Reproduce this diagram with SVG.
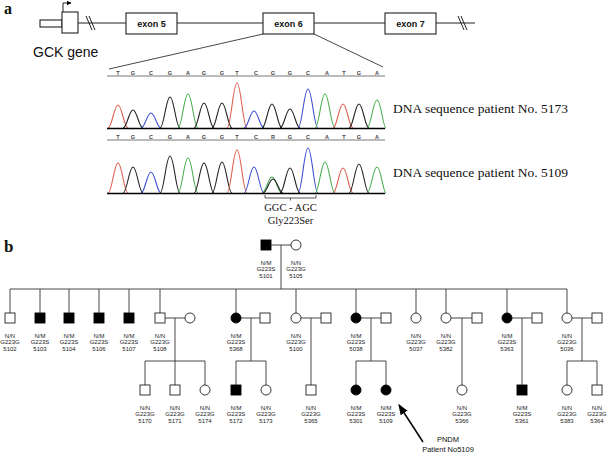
<svg xmlns="http://www.w3.org/2000/svg" width="609" height="453" viewBox="0 0 609 453">
<defs>
<marker id="ah" viewBox="0 0 10 10" refX="9" refY="5" markerWidth="5" markerHeight="5" orient="auto" markerUnits="strokeWidth">
<path d="M0 0L10 5L0 10z" fill="#000"/>
</marker>
<marker id="ah2" viewBox="0 0 10 10" refX="9" refY="5" markerWidth="7" markerHeight="7" orient="auto" markerUnits="strokeWidth">
<path d="M0 1L10 5L0 9z" fill="#000"/>
</marker>
</defs>
<style>
.ln{stroke:#333;stroke-width:0.9;fill:none}
.gl{stroke:#222;stroke-width:1;fill:none}
.bx{fill:#fff;stroke:#222;stroke-width:1.1}
.o{fill:#fff;stroke:#222;stroke-width:0.9}
.f{fill:#000;stroke:#000;stroke-width:0.9}
.lb{font-family:"Liberation Sans",Arial,sans-serif;font-size:6px;text-anchor:middle;fill:#222}
.ex{font-family:"Liberation Sans",Arial,sans-serif;font-size:9px;font-weight:bold;text-anchor:middle;fill:#111}
.sq{font-family:"Liberation Sans",Arial,sans-serif;font-size:5.5px;font-weight:bold;text-anchor:middle;fill:#444}
.sr{font-family:"Liberation Serif","Times New Roman",serif;fill:#111}
.pk{fill:none;stroke-width:1.1}
.T{stroke:#e0604f}
.G{stroke:#222}
.C{stroke:#3e4fd0}
.A{stroke:#4caf50}
</style>
<rect width="609" height="453" fill="#fff"/>

<!-- panel a -->
<text x="4" y="14" class="sr" font-size="16" font-weight="bold">a</text>
<g id="gene">
<path class="gl" d="M78 23H126M177 23H263M314 23H385M436 23H475"/>
<path class="gl" d="M86 16L92 30M89 16L95 30M458 16L464 30M461 16L467 30"/>
<rect x="40" y="20" width="22" height="7" class="bx"/>
<rect x="62" y="12" width="16" height="21" class="bx"/>
<path d="M63 12V3H71" class="gl" marker-end="url(#ah)"/>
<text x="33" y="57" font-family="Liberation Sans,Arial,sans-serif" font-size="14" fill="#111">GCK gene</text>
</g>
<g id="exon5"><rect x="126" y="13" width="51" height="21" class="bx"/><text x="151.5" y="26.5" class="ex">exon 5</text></g>
<g id="exon6"><rect x="263" y="13" width="51" height="21" class="bx"/><text x="288.5" y="26.5" class="ex">exon 6</text></g>
<g id="exon7"><rect x="385" y="13" width="51" height="21" class="bx"/><text x="410.5" y="26.5" class="ex">exon 7</text></g>
<path class="ln" d="M263 34L109 69M314 34L383 67"/>

<g id="seq1">
<path d="M107 76H385" stroke="#555" stroke-width="0.8"/>
<text class="sq" y="75"><tspan x="118">T</tspan><tspan x="133">G</tspan><tspan x="151">C</tspan><tspan x="170">G</tspan><tspan x="188">A</tspan><tspan x="204">G</tspan><tspan x="222">G</tspan><tspan x="237">T</tspan><tspan x="256">C</tspan><tspan x="273">G</tspan><tspan x="290">G</tspan><tspan x="308">C</tspan><tspan x="327">A</tspan><tspan x="344">T</tspan><tspan x="359">G</tspan><tspan x="377">A</tspan></text>
</g>
<g id="chrom1">
<path class="pk T" d="M108 128C112 128 114 105 118 105C122 105 124 128 128 128"/>
<path class="pk G" d="M123 128C127 128 129 110 133 110C137 110 139 128 143 128"/>
<path class="pk C" d="M141 128C145 128 147 113 151 113C155 113 157 128 161 128"/>
<path class="pk G" d="M160 128C164 128 166 97 170 97C174 97 176 128 180 128"/>
<path class="pk A" d="M178 128C182 128 184 94 188 94C192 94 194 128 198 128"/>
<path class="pk G" d="M194 128C198 128 200 103 204 103C208 103 210 128 214 128"/>
<path class="pk G" d="M212 128C216 128 218 103 222 103C226 103 228 128 232 128"/>
<path class="pk T" d="M227 128C231 128 233 83 237 83C241 83 243 128 247 128"/>
<path class="pk C" d="M244 128C248 128 250 111 254 111C258 111 260 128 264 128"/>
<path class="pk G" d="M262 128C266 128 268 104 272 104C276 104 278 128 282 128"/>
<path class="pk G" d="M280 128C284 128 286 109 290 109C294 109 296 128 300 128"/>
<path class="pk C" d="M298 128C302 128 304 89 308 89C312 89 314 128 318 128"/>
<path class="pk A" d="M315 128C319 128 321 94 325 94C329 94 331 128 335 128"/>
<path class="pk T" d="M333 128C337 128 339 104 343 104C347 104 349 128 353 128"/>
<path class="pk G" d="M349 128C353 128 355 104 359 104C363 104 365 128 369 128"/>
<path class="pk A" d="M367 128C371 128 373 100 377 100C381 100 383 128 386 128"/>
<path d="M107 128.5H385" stroke="#000" stroke-width="1.6"/>
</g>
<text x="393" y="113" class="sr" font-size="13.5">DNA sequence patient No. 5173</text>

<g id="seq2">
<path d="M107 140H385" stroke="#555" stroke-width="0.8"/>
<text class="sq" y="139"><tspan x="118">T</tspan><tspan x="133">G</tspan><tspan x="151">C</tspan><tspan x="170">G</tspan><tspan x="188">A</tspan><tspan x="204">G</tspan><tspan x="222">G</tspan><tspan x="237">T</tspan><tspan x="256">C</tspan><tspan x="273">R</tspan><tspan x="290">G</tspan><tspan x="308">C</tspan><tspan x="327">A</tspan><tspan x="344">T</tspan><tspan x="359">G</tspan><tspan x="377">A</tspan></text>
</g>
<g id="chrom2">
<path class="pk T" d="M108 193C112 193 114 163 118 163C122 163 124 193 128 193"/>
<path class="pk G" d="M123 193C127 193 129 167 133 167C137 167 139 193 143 193"/>
<path class="pk C" d="M141 193C145 193 147 172 151 172C155 172 157 193 161 193"/>
<path class="pk G" d="M160 193C164 193 166 156 170 156C174 156 176 193 180 193"/>
<path class="pk A" d="M178 193C182 193 184 158 188 158C192 158 194 193 198 193"/>
<path class="pk G" d="M194 193C198 193 200 163 204 163C208 163 210 193 214 193"/>
<path class="pk G" d="M212 193C216 193 218 162 222 162C226 162 228 193 232 193"/>
<path class="pk T" d="M227 193C231 193 233 150 237 150C241 150 243 193 247 193"/>
<path class="pk C" d="M244 193C248 193 250 167 254 167C258 167 260 193 264 193"/>
<path class="pk A" d="M262 193C266 193 268 177 272 177C276 177 278 193 282 193"/>
<path class="pk G" d="M263 193C267 193 269 179 273 179C277 179 279 193 283 193"/>
<path class="pk G" d="M280 193C284 193 286 168 290 168C294 168 296 193 300 193"/>
<path class="pk C" d="M298 193C302 193 304 148 308 148C312 148 314 193 318 193"/>
<path class="pk A" d="M315 193C319 193 321 162 325 162C329 162 331 193 335 193"/>
<path class="pk T" d="M333 193C337 193 339 168 343 168C347 168 349 193 353 193"/>
<path class="pk G" d="M349 193C353 193 355 164 359 164C363 164 365 193 369 193"/>
<path class="pk A" d="M367 193C371 193 373 167 377 167C381 167 383 193 386 193"/>
<path d="M107 193.5H385" stroke="#000" stroke-width="1.6"/>
</g>
<text x="393" y="177" class="sr" font-size="13.5">DNA sequence patient No. 5109</text>
<path d="M265 195V198H316V195M290.5 198V200.5" stroke="#444" stroke-width="0.9" fill="none"/>
<text x="290.5" y="211" class="sr" font-size="10.5" text-anchor="middle">GGC - AGC</text>
<text x="290.5" y="224" class="sr" font-size="10.5" text-anchor="middle">Gly223Ser</text>

<!-- panel b -->
<text x="4" y="252" class="sr" font-size="17" font-weight="bold">b</text>

<g id="connectors">
<path class="ln" d="M271 245H291M281 245V289M10 289H567"/>
<path class="ln" d="M10 289V313M40 289V313M69 289V313M99 289V313M129 289V313M160 289V313M236 289V313M296 289V313M356 289V313M416 289V313M446 289V313M507 289V313M567 289V313"/>
<path class="ln" d="M165 318H185M241 318H260M301 318H321M361 318H381M451 318H472M512 318H532M572 318H592"/>
<path class="ln" d="M175 318V361M145 361H205M145 361V385M175 361V385M205 361V385"/>
<path class="ln" d="M251 318V361M236 361H266M236 361V385M266 361V385"/>
<path class="ln" d="M311 318V385"/>
<path class="ln" d="M371 318V361M356 361H386M356 361V385M386 361V385"/>
<path class="ln" d="M462 318V385"/>
<path class="ln" d="M522 318V385"/>
<path class="ln" d="M582 318V361M567 361H597M567 361V385M597 361V385"/>
<path d="M423 442L399 405" stroke="#000" stroke-width="1.5" marker-end="url(#ah2)"/>
</g>

<g id="n5101"><rect x="261" y="240" width="10" height="10" class="f"/><text class="lb" x="266" y="264.5">N/M</text><text class="lb" x="266" y="271">G223S</text><text class="lb" x="266" y="277.5">5101</text></g>
<g id="n5105"><circle cx="296" cy="245" r="5" class="o"/><text class="lb" x="296" y="264.5">N/N</text><text class="lb" x="296" y="271">G223G</text><text class="lb" x="296" y="277.5">5105</text></g>

<g id="n5102"><rect x="5" y="313" width="10" height="10" class="o"/><text class="lb" x="10" y="337.5">N/N</text><text class="lb" x="10" y="344">G223G</text><text class="lb" x="10" y="350.5">5102</text></g>
<g id="n5103"><rect x="35" y="313" width="10" height="10" class="f"/><text class="lb" x="40" y="337.5">N/M</text><text class="lb" x="40" y="344">G223S</text><text class="lb" x="40" y="350.5">5103</text></g>
<g id="n5104"><rect x="64" y="313" width="10" height="10" class="f"/><text class="lb" x="69" y="337.5">N/M</text><text class="lb" x="69" y="344">G223S</text><text class="lb" x="69" y="350.5">5104</text></g>
<g id="n5106"><rect x="94" y="313" width="10" height="10" class="f"/><text class="lb" x="99" y="337.5">N/M</text><text class="lb" x="99" y="344">G223S</text><text class="lb" x="99" y="350.5">5106</text></g>
<g id="n5107"><rect x="124" y="313" width="10" height="10" class="f"/><text class="lb" x="129" y="337.5">N/M</text><text class="lb" x="129" y="344">G223S</text><text class="lb" x="129" y="350.5">5107</text></g>
<g id="n5108"><rect x="155" y="313" width="10" height="10" class="o"/><text class="lb" x="160" y="337.5">N/N</text><text class="lb" x="160" y="344">G223G</text><text class="lb" x="160" y="350.5">5108</text></g>
<g id="s5108"><circle cx="190" cy="318" r="5" class="o"/></g>
<g id="n5368"><circle cx="236" cy="318" r="5" class="f"/><text class="lb" x="236" y="337.5">N/M</text><text class="lb" x="236" y="344">G223S</text><text class="lb" x="236" y="350.5">5368</text></g>
<g id="s5368"><rect x="260" y="313" width="10" height="10" class="o"/></g>
<g id="n5100"><circle cx="296" cy="318" r="5" class="o"/><text class="lb" x="296" y="337.5">N/N</text><text class="lb" x="296" y="344">G223G</text><text class="lb" x="296" y="350.5">5100</text></g>
<g id="s5100"><rect x="321" y="313" width="10" height="10" class="o"/></g>
<g id="n5038"><circle cx="356" cy="318" r="5" class="f"/><text class="lb" x="356" y="337.5">N/M</text><text class="lb" x="356" y="344">G223S</text><text class="lb" x="356" y="350.5">5038</text></g>
<g id="s5038"><rect x="381" y="313" width="10" height="10" class="o"/></g>
<g id="n5037"><circle cx="416" cy="318" r="5" class="o"/><text class="lb" x="416" y="337.5">N/N</text><text class="lb" x="416" y="344">G223G</text><text class="lb" x="416" y="350.5">5037</text></g>
<g id="n5382"><circle cx="446" cy="318" r="5" class="o"/><text class="lb" x="446" y="337.5">N/N</text><text class="lb" x="446" y="344">G223G</text><text class="lb" x="446" y="350.5">5382</text></g>
<g id="s5382"><rect x="472" y="313" width="10" height="10" class="o"/></g>
<g id="n5363"><circle cx="507" cy="318" r="5" class="f"/><text class="lb" x="507" y="337.5">N/M</text><text class="lb" x="507" y="344">G223S</text><text class="lb" x="507" y="350.5">5363</text></g>
<g id="s5363"><rect x="532" y="313" width="10" height="10" class="o"/></g>
<g id="n5036"><circle cx="567" cy="318" r="5" class="o"/><text class="lb" x="567" y="337.5">N/N</text><text class="lb" x="567" y="344">G223G</text><text class="lb" x="567" y="350.5">5036</text></g>
<g id="s5036"><rect x="592" y="313" width="10" height="10" class="o"/></g>

<g id="n5170"><rect x="140" y="385" width="10" height="10" class="o"/><text class="lb" x="145" y="409.5">N/N</text><text class="lb" x="145" y="416">G223G</text><text class="lb" x="145" y="422.5">5170</text></g>
<g id="n5171"><rect x="170" y="385" width="10" height="10" class="o"/><text class="lb" x="175" y="409.5">N/N</text><text class="lb" x="175" y="416">G223G</text><text class="lb" x="175" y="422.5">5171</text></g>
<g id="n5174"><circle cx="205" cy="390" r="5" class="o"/><text class="lb" x="205" y="409.5">N/N</text><text class="lb" x="205" y="416">G223G</text><text class="lb" x="205" y="422.5">5174</text></g>
<g id="n5172"><rect x="231" y="385" width="10" height="10" class="f"/><text class="lb" x="236" y="409.5">N/M</text><text class="lb" x="236" y="416">G223S</text><text class="lb" x="236" y="422.5">5172</text></g>
<g id="n5173"><circle cx="266" cy="390" r="5" class="o"/><text class="lb" x="266" y="409.5">N/N</text><text class="lb" x="266" y="416">G223G</text><text class="lb" x="266" y="422.5">5173</text></g>
<g id="n5365"><rect x="306" y="385" width="10" height="10" class="o"/><text class="lb" x="311" y="409.5">N/N</text><text class="lb" x="311" y="416">G223G</text><text class="lb" x="311" y="422.5">5365</text></g>
<g id="n5301"><circle cx="356" cy="390" r="5" class="f"/><text class="lb" x="356" y="409.5">N/M</text><text class="lb" x="356" y="416">G223S</text><text class="lb" x="356" y="422.5">5301</text></g>
<g id="n5109"><circle cx="386" cy="390" r="5" class="f"/><text class="lb" x="386" y="409.5">N/M</text><text class="lb" x="386" y="416">G223S</text><text class="lb" x="386" y="422.5">5109</text></g>
<g id="n5366"><circle cx="462" cy="390" r="5" class="o"/><text class="lb" x="462" y="409.5">N/N</text><text class="lb" x="462" y="416">G223G</text><text class="lb" x="462" y="422.5">5366</text></g>
<g id="n5361"><rect x="517" y="385" width="10" height="10" class="f"/><text class="lb" x="522" y="409.5">N/M</text><text class="lb" x="522" y="416">G223S</text><text class="lb" x="522" y="422.5">5361</text></g>
<g id="n5383"><circle cx="567" cy="390" r="5" class="o"/><text class="lb" x="567" y="409.5">N/N</text><text class="lb" x="567" y="416">G223G</text><text class="lb" x="567" y="422.5">5383</text></g>
<g id="n5364"><rect x="592" y="385" width="10" height="10" class="o"/><text class="lb" x="597" y="409.5">N/N</text><text class="lb" x="597" y="416">G223G</text><text class="lb" x="597" y="422.5">5364</text></g>

<g id="pndm">
<text x="448" y="442" font-family="Liberation Sans,Arial,sans-serif" font-size="7.5" text-anchor="middle" fill="#111">PNDM</text>
<text x="448" y="451.5" font-family="Liberation Sans,Arial,sans-serif" font-size="7.5" text-anchor="middle" fill="#111">Patient No5109</text>
</g>
</svg>
